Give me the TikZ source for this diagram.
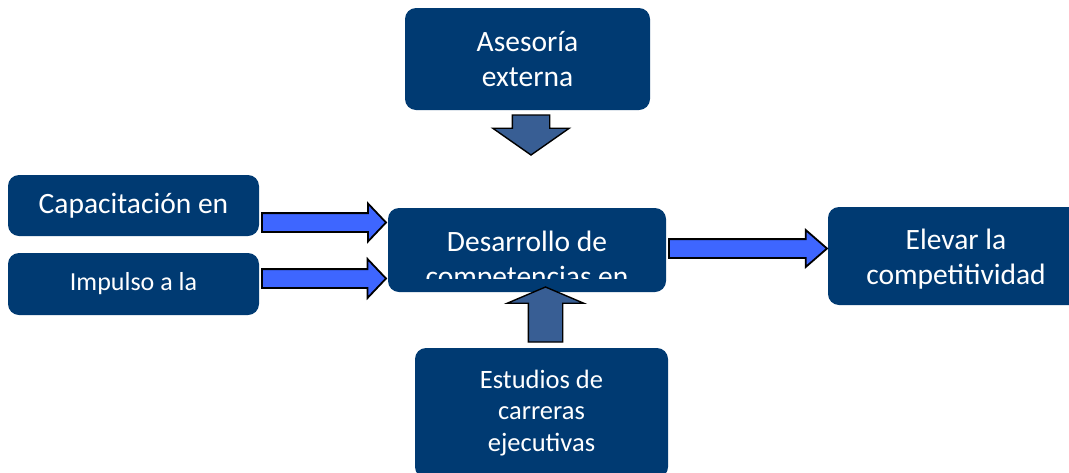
\documentclass[tikz,border=0pt]{standalone}
\usepackage{fontspec}
\setmainfont{Carlito}
\usetikzlibrary{shapes.arrows}
\definecolor{navy}{RGB}{0,58,114}
\definecolor{steel}{RGB}{56,94,148}
\definecolor{bright}{RGB}{62,102,255}
\tikzset{
  box/.style={fill=navy, rounded corners=11pt, text=white, align=center, inner sep=0pt},
  bigtxt/.style={font=\fontsize{29.5}{35}\selectfont},
  midtxt/.style={font=\fontsize{26.5}{31.5}\selectfont},
  blockarrow/.style={single arrow, draw=black, minimum width=1pt, single arrow head indent=0pt, anchor=tail, outer sep=0pt},
}
\begin{document}
\begin{tikzpicture}[x=1pt,y=-1pt]
\useasboundingbox (0,0) rectangle (1069,472);
\clip (0,0) rectangle (1069,472);
% boxes
\node[box, bigtxt, minimum width=245pt, minimum height=102pt] (ase) at (527.5,59) {Asesoría\\externa};
\node[box, bigtxt, minimum width=251pt, minimum height=61pt] (cap) at (133.5,205.5) {Capacitación en};
\node[box, font=\fontsize{26}{30}\selectfont, minimum width=251pt, minimum height=62pt] (imp) at (133.5,284) {Impulso a la};
\node[box, minimum width=278pt, minimum height=84pt] (des) at (527,250) {};
\begin{scope}
  \clip (388,200) rectangle (666,278);
  \node[bigtxt, text=white, align=center, inner sep=0pt] (destxt) at (527,261) {Desarrollo de\\competencias en};
\end{scope}
\node[box, bigtxt, minimum width=256pt, minimum height=98pt] (ele) at (956,256) {};
\node[bigtxt, text=white, align=center, inner sep=0pt] (eletxt) at (956,259) {Elevar la\\competitividad};
\node[box, midtxt, minimum width=253pt, minimum height=130pt] (est) at (541.5,413) {Estudios de\\carreras\\ejecutivas};
% arrows
\node[blockarrow, fill=steel, line width=1.4pt, inner xsep=18pt, inner ysep=0pt, single arrow head extend=19.5pt,
      single arrow tip angle=110, minimum height=40pt, shape border rotate=270] (a1) at (531,115) {};
\node[blockarrow, fill=steel, line width=1.4pt, inner xsep=16.5pt, inner ysep=0pt, single arrow head extend=21pt,
      single arrow tip angle=134, minimum height=55pt, shape border rotate=90] (a2) at (545.5,342) {};
\node[blockarrow, fill=bright, line width=1.8pt, inner xsep=0pt, inner ysep=8.5pt, single arrow head extend=9.5pt,
      single arrow tip angle=93, minimum height=124pt] (a3) at (262,222.5) {};
\node[blockarrow, fill=bright, line width=1.8pt, inner xsep=0pt, inner ysep=8.5pt, single arrow head extend=10pt,
      single arrow tip angle=93, minimum height=124pt] (a4) at (262,278.5) {};
\node[blockarrow, fill=bright, line width=1.8pt, inner xsep=0pt, inner ysep=8.5pt, single arrow head extend=9pt,
      single arrow tip angle=82, minimum height=158pt] (a5) at (669,248.5) {};
\end{tikzpicture}
\end{document}
